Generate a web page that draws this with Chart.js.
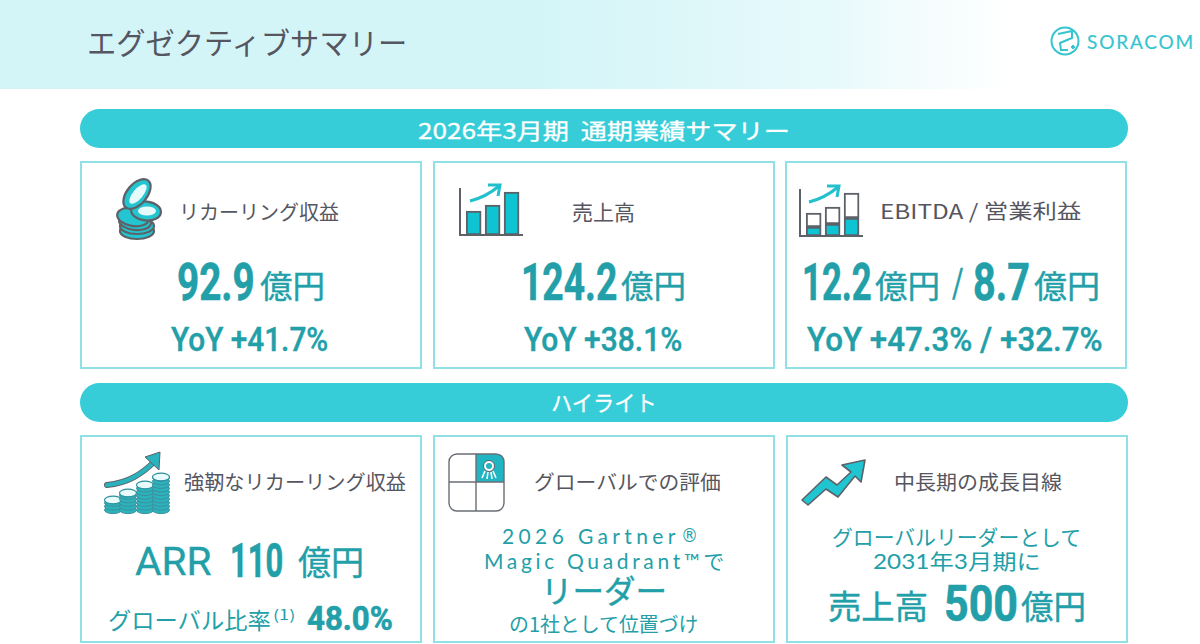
<!DOCTYPE html>
<html lang="ja">
<head>
<meta charset="utf-8">
<title>エグゼクティブサマリー</title>
<script src="https://cdn.jsdelivr.net/npm/chart.js@4"></script>
<style>
  html, body { margin: 0; padding: 0; background: #fff; }
  #page { position: relative; width: 1200px; height: 644px; overflow: hidden; font-family: "Noto Sans CJK JP", sans-serif; }
  #header { position: absolute; left: 0; top: 0; width: 1200px; height: 89px; background: linear-gradient(90deg, #d4f5f8 0%, #d4f5f8 45%, #e6f9fb 68%, #ffffff 84%); }
  .banner { position: absolute; left: 80px; width: 1048px; height: 39px; border-radius: 20px; background: #36cdd8; }
  .card { position: absolute; box-sizing: border-box; height: 208px; border: 2px solid #90e0e6; }
  .t { position: absolute; white-space: pre; transform-origin: left center; }
  canvas, svg { position: absolute; }
</style>
</head>
<body>
<div id="page">
  <div id="header"></div>
  <div class="banner" style="top:109px"></div>
  <div class="banner" style="top:383px"></div>
  <div class="card" style="left:80px;top:161px;width:342px"></div>
  <div class="card" style="left:433px;top:161px;width:342px"></div>
  <div class="card" style="left:785px;top:161px;width:342px"></div>
  <div class="card" style="left:80px;top:435px;width:342px"></div>
  <div class="card" style="left:433px;top:435px;width:342px"></div>
  <div class="card" style="left:786px;top:435px;width:342px"></div>

  <!-- icons that are not charts -->
  <svg id="icons" width="1200" height="644" style="left:0;top:0">
    <g id="logo" fill="none" stroke="#36c5d0" stroke-width="2">
      <circle cx="1065" cy="41" r="13.5"/>
      <path d="M1058 34 L1072 31 L1072 38 L1060 43 L1061 50 L1068 50 M1071 47 h4 M1073 45 v4"/>
    </g>
    <g id="coins" stroke="#5d6168" stroke-width="2.2">
      <ellipse cx="137" cy="231" rx="17" ry="8" fill="#22c5d0"/>
      <ellipse cx="137" cy="226" rx="17" ry="8" fill="#22c5d0"/>
      <ellipse cx="135" cy="222" rx="16" ry="8" fill="#22c5d0" transform="rotate(6 135 222)"/>
      <ellipse cx="133" cy="217" rx="16" ry="9" fill="#22c5d0" transform="rotate(10 133 217)"/>
      <ellipse cx="146" cy="211" rx="15" ry="9.5" fill="#22c5d0" transform="rotate(6 146 211)"/>
      <ellipse cx="137" cy="194" rx="17.5" ry="10" fill="#22c5d0" transform="rotate(-50 137 194)"/>
      <ellipse cx="138" cy="194" rx="12" ry="5" fill="#e8fbfc" stroke="none" transform="rotate(-50 138 194)"/>
      <ellipse cx="147" cy="211" rx="9" ry="4.5" fill="#e8fbfc" stroke="none"/>
    </g>
    <g id="trendArrows" fill="none" stroke="#22c0cc" stroke-width="3">
      <path d="M470 201 C482 198 492 192 499 186"/>
      <path d="M488 185 L500 185 L498 196"/>
      <path d="M809 202 C821 199 831 193 838 187"/>
      <path d="M827 186 L839 186 L837 197"/>
    </g>
    <g id="coinStacks"></g>
    <path d="M107 485 C128 483 142 474 155 461" fill="none" stroke="#5d6168" stroke-width="6" stroke-linecap="round"/>
    <path d="M107 485 C128 483 142 474 155 461" fill="none" stroke="#2ab3bd" stroke-width="4.2" stroke-linecap="round"/>
    <path d="M145 457 L160 452 L159 470 Z" fill="#2ab3bd" stroke="#5d6168" stroke-width="1"/>
    <g id="quadrant">
      <path d="M476 454 H497 Q504 454 504 461 V482 H476 Z" fill="#1fb5c2"/>
      <rect x="449" y="454" width="55" height="57" rx="8" fill="none" stroke="#6a6d74" stroke-width="1.4"/>
      <path d="M476 454 V511 M449 482 H504" stroke="#6a6d74" stroke-width="1.4"/>
      <circle cx="489" cy="466" r="5.5" fill="#fff" stroke="#5d6168" stroke-width="1"/>
      <circle cx="489" cy="466" r="3" fill="#1fb5c2"/>
      <path d="M485 471 L482 478 M488 472 L487 479 M491 472 L492 479 M493 471 L496 478" stroke="#fff" stroke-width="1.6"/>
    </g>
    <polygon id="zigzag" points="802,500 826,477 837,485 851,472 842,465 865,460 861,482 855,476 838,497 826,489 808,505" fill="#1fc6d2" stroke="#5d6168" stroke-width="1.6" stroke-linejoin="round"/>
  </svg>

  <canvas id="salesIcon" width="66" height="48" style="left:459px;top:188px"></canvas>
  <canvas id="ebitdaIcon" width="66" height="48" style="left:799px;top:189px"></canvas>
</div>

<script>
// text of the slide
const pageTitle = 'エグゼクティブサマリー';
const bannerTitles = ['2026年3月期  通期業績サマリー', 'ハイライト'];
const summaryLabels = ['リカーリング収益', '売上高', 'EBITDA / 営業利益'];
const summaryValues = ['92.9', '124.2', '12.2', '8.7'];
const summaryYoY = ['YoY +41.7%', 'YoY +38.1%', 'YoY +47.3% / +32.7%'];
const highlightLabels = ['強靭なリカーリング収益', 'グローバルでの評価', '中長期の成長目線'];
const unit = '億円';

// the little bar charts in the icons
const iconYears = [0, 1, 2];
const salesBars = [24, 30, 43];
const ebitdaBars = [9, 12, 18];
const ebitdaRestBars = [14, 17, 25];

const GREY = '#55565f';
const TEAL = '#229fa8';
const page = document.getElementById('page');

// puts a text between x0 and x1: squeezed to that width, or letter spaced with opts.spaced
function put(str, x0, x1, cy, size, color, opts) {
    opts = opts || {};
    let el = document.createElement('div');
    el.className = 't';
    el.textContent = str;
    el.style.left = x0 + 'px';
    el.style.top = (cy - size / 2) + 'px';
    el.style.fontSize = size + 'px';
    el.style.lineHeight = size + 'px';
    el.style.color = color;
    el.style.fontWeight = opts.weight || 400;
    if (opts.family) el.style.fontFamily = opts.family;
    if (opts.stroke) el.style.webkitTextStroke = opts.stroke + 'px ' + color;
    page.appendChild(el);
    if (opts.spaced) {
        el.style.letterSpacing = ((x1 - x0 - el.offsetWidth) / (str.length - 1)) + 'px';
    } else {
        el.style.transform = 'scaleX(' + ((x1 - x0) / el.offsetWidth) + ')';
    }
}

const NUM = { weight: 700, family: 'Roboto, sans-serif', stroke: 0.6 };
const YOY = { weight: 500, family: 'Roboto, sans-serif', stroke: 0.4 };
const UNIT = { stroke: 0.4 };
const LINE = { family: 'Lato, "Noto Sans CJK JP", sans-serif', spaced: true };

put(pageTitle, 87, 407, 41, 30, GREY);
put('SORACOM', 1087, 1193, 41, 19, '#36c5d0', { family: 'Lato, sans-serif', spaced: true, stroke: 0.2 });

put(bannerTitles[0], 418, 790, 129, 22, '#fff', { stroke: 0.3 });
put(bannerTitles[1], 551, 657, 401, 22, '#fff', { stroke: 0.3 });

// top row
put(summaryLabels[0], 179, 339, 212, 20, GREY);
put(summaryLabels[1], 572, 635, 211, 21, GREY);
put(summaryLabels[2], 880, 1081, 211, 20, GREY);

put(summaryValues[0], 177, 255, 283, 52, TEAL, NUM);
put(unit, 260, 325, 284, 32, TEAL, UNIT);
put(summaryValues[1], 521, 617, 283, 52, TEAL, NUM);
put(unit, 621, 686, 284, 32, TEAL, UNIT);
put(summaryValues[2], 802, 872, 283, 52, TEAL, NUM);
put(unit, 875, 940, 284, 32, TEAL, UNIT);
put('/', 952, 964, 284, 40, TEAL, { family: 'Roboto, sans-serif', stroke: 0.4 });
put(summaryValues[3], 973, 1030, 283, 52, TEAL, NUM);
put(unit, 1034, 1100, 284, 32, TEAL, UNIT);

put(summaryYoY[0], 171, 328, 339, 33, TEAL, YOY);
put(summaryYoY[1], 524, 682, 339, 33, TEAL, YOY);
put(summaryYoY[2], 807, 1103, 339, 33, TEAL, YOY);

// bottom row
put(highlightLabels[0], 184, 406, 482, 20, GREY);
put(highlightLabels[1], 534, 721, 482, 20, GREY);
put(highlightLabels[2], 894, 1062, 482, 20, GREY);

put('ARR', 135, 212, 562, 38, TEAL, { family: 'Roboto, sans-serif', stroke: 0.3 });
put('110', 230, 283, 560, 49, TEAL, NUM);
put(unit, 298, 364, 561, 34, TEAL, UNIT);
put('グローバル比率', 108, 271, 619, 23, TEAL);
put('(1)', 273, 295, 614, 14, TEAL);
put('48.0%', 307, 393, 618, 33, TEAL, NUM);

put('2026 Gartner', 502, 675, 535.5, 21, TEAL, LINE);
put('®', 681, 698, 535.5, 19, TEAL, { family: '"DejaVu Sans", sans-serif' });
put('Magic Quadrant™で', 484, 724, 560.5, 21, TEAL, LINE);
put('リーダー', 541, 667, 591, 32, TEAL, { family: LINE.family, stroke: 0.4 });
put('の1社として位置づけ', 509, 699, 624, 20, TEAL);

put('グローバルリーダーとして', 832, 1081, 536, 21, TEAL, { family: LINE.family });
put('2031年3月期に', 873, 1041, 560, 21, TEAL, { family: LINE.family });
put('売上高', 828, 928, 605, 33, TEAL, UNIT);
put('500', 944, 1018, 604, 50, TEAL, NUM);
put(unit, 1021, 1086, 605, 33, TEAL, UNIT);

// stacks of coins next to the growth arrow
function drawStacks() {
    const g = document.getElementById('coinStacks');
    const cols = [[113, 500], [128, 493], [145, 485], [161, 477]];
    let s = '';
    for (let c of cols) {
        for (let y = 510; y > c[1]; y -= 3.6) {
            s += `<ellipse cx="${c[0]}" cy="${y}" rx="8.5" ry="3.6" fill="#2ab3bd" stroke="#3f8f9a" stroke-width="1"/>`;
        }
        s += `<ellipse cx="${c[0]}" cy="${c[1]}" rx="8.5" ry="3.8" fill="#e8fbfc" stroke="#2a8f9a" stroke-width="1.2"/>`;
    }
    g.innerHTML = s;
}
drawStacks();

function iconScales(yMax) {
    return {
        x: {
            type: 'linear', min: -0.72, max: 2.55, stacked: true, offset: false,
            ticks: { display: false },
            grid: { display: false, drawTicks: false },
            border: { color: '#5d6168', width: 2 }
        },
        y: {
            min: 0, max: yMax, stacked: true,
            ticks: { display: false },
            grid: { display: false, drawTicks: false },
            border: { color: '#5d6168', width: 2 }
        }
    };
}

function iconBar(id, datasets) {
    return new Chart(document.getElementById(id), {
        type: 'bar',
        data: { datasets: datasets },
        options: {
            responsive: false,
            animation: false,
            layout: { padding: { left: 1, right: 3, top: 1, bottom: 1 } },
            plugins: { legend: { display: false }, tooltip: { enabled: false } },
            scales: iconScales(46)
        }
    });
}

function toPoints(values) {
    return values.map((v, i) => ({ x: iconYears[i], y: v }));
}

iconBar('salesIcon', [{
    data: toPoints(salesBars),
    backgroundColor: '#0ec4d2',
    borderColor: '#5d6168',
    borderWidth: 2,
    borderSkipped: false,
    barThickness: 15
}]);

iconBar('ebitdaIcon', [{
    data: toPoints(ebitdaBars),
    backgroundColor: '#0ec4d2',
    borderColor: '#5d6168',
    borderWidth: 2,
    borderSkipped: false,
    barThickness: 15
}, {
    data: toPoints(ebitdaRestBars),
    backgroundColor: '#ffffff',
    borderColor: '#5d6168',
    borderWidth: 2,
    borderSkipped: false,
    barThickness: 15
}]);
</script>
</body>
</html>
